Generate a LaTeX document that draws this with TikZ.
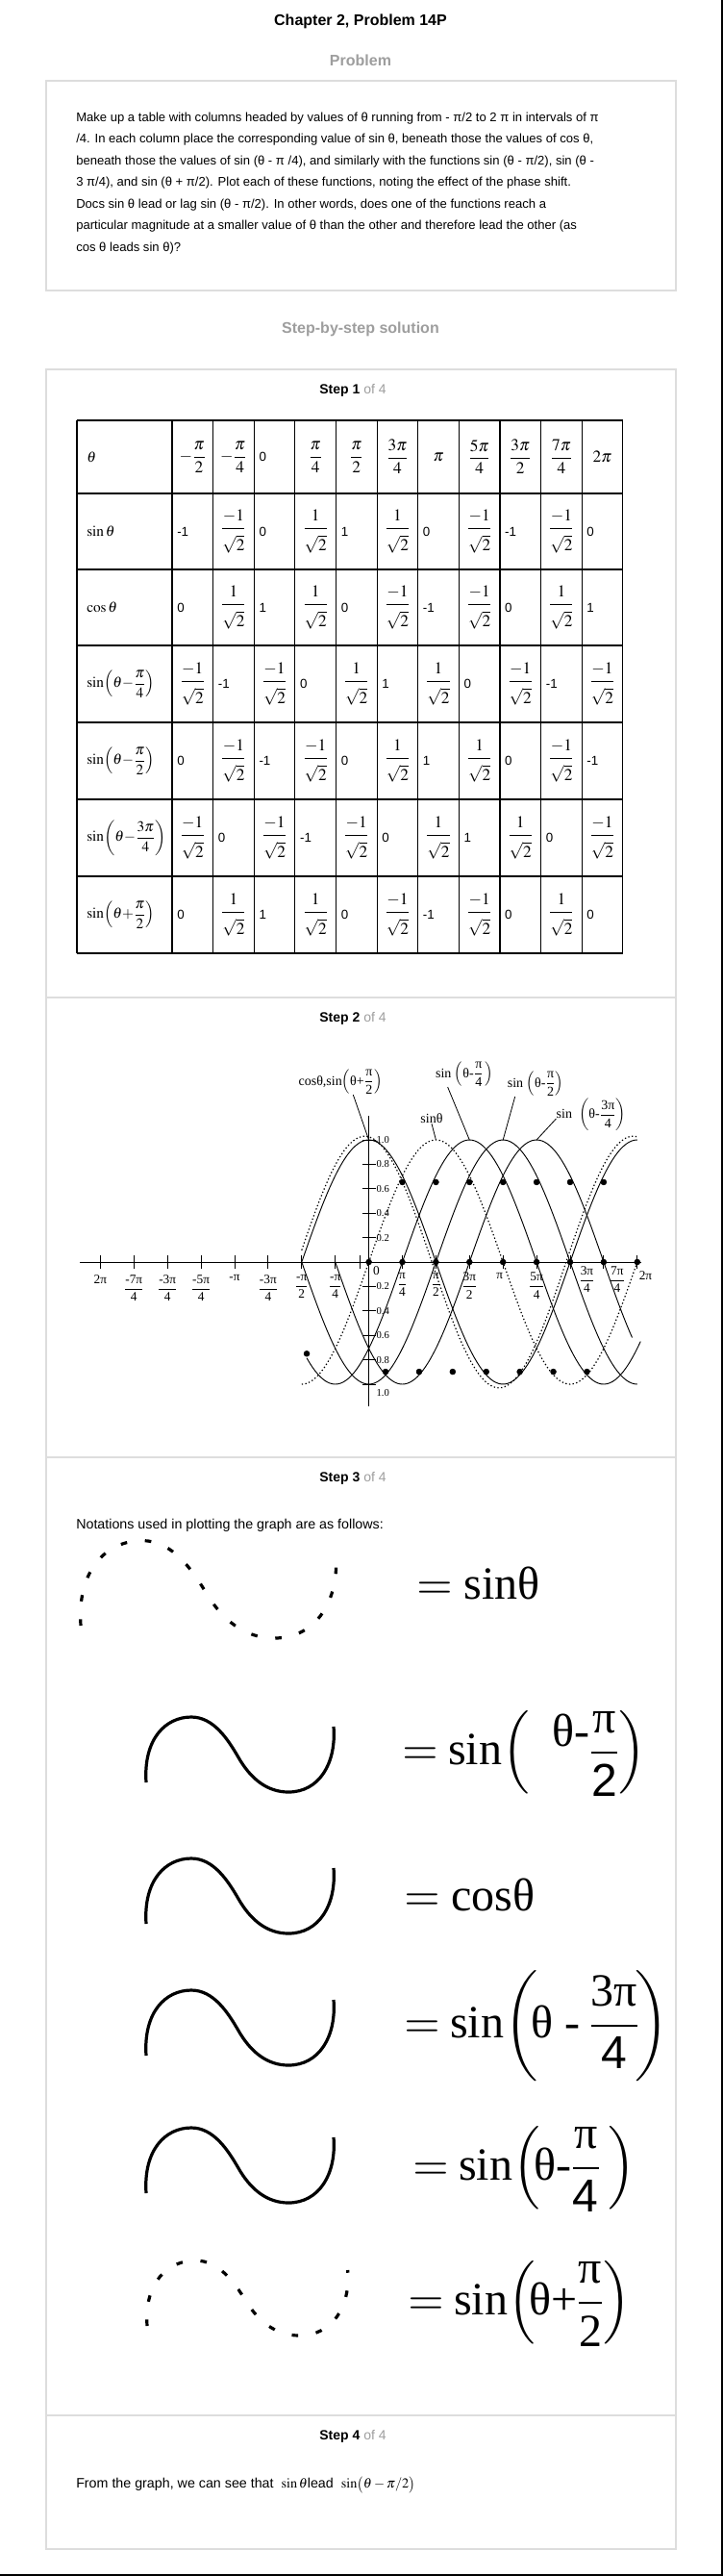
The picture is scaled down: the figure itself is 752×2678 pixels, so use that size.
\documentclass[tikz,border=0pt]{standalone}
\usepackage{amsmath}
\usepackage{mathptmx}
\usepackage[no-math]{fontspec}
\setmainfont{Liberation Sans}
\newfontfamily\tnr{Liberation Serif}
\definecolor{headgray}{HTML}{9E9E9E}
\definecolor{boxgray}{HTML}{DDDDDD}

\newcommand{\ps}{\dfrac{1}{\rule{0pt}{1.2em}\sqrt{2}}}
\newcommand{\ms}{\dfrac{-1}{\rule{0pt}{1.2em}\sqrt{2}}}
\newcommand{\ufrac}[2]{$\dfrac{\mbox{#1}}{\mbox{#2}}$}

\tikzset{
  heading/.style={font=\fontsize{12}{14}\selectfont\bfseries, inner sep=0pt},
  grayhead/.style={heading, text=headgray},
  steptitle/.style={font=\fontsize{10.5}{12}\selectfont, inner sep=0pt},
  bodytext/.style={font=\fontsize{10.7}{12}\selectfont, anchor=west, inner sep=0pt},
  probtext/.style={font=\fontsize{9.8}{12}\selectfont, anchor=west, inner sep=0pt},
  boxline/.style={draw=boxgray, line width=1.1pt},
  tabline/.style={line width=0.9pt},
  cellnum/.style={font=\fontsize{10}{12}\selectfont, anchor=west, inner sep=0pt},
  cellmath/.style={font=\fontsize{13}{15}\selectfont, inner sep=0pt},
  rowlabel/.style={font=\fontsize{11.5}{13}\selectfont, anchor=west, inner sep=0pt},
  axisline/.style={line width=0.7pt},
  xlab/.style={font=\tnr\fontsize{10}{12}\selectfont, inner sep=0.5pt},
  ylab/.style={font=\tnr\fontsize{8}{9}\selectfont, inner sep=0.5pt, anchor=west},
  solidcurve/.style={line width=0.7pt},
  dotcurve/.style={line width=0.9pt, dash pattern=on 1pt off 1.8pt},
  calllabel/.style={font=\tnr\fontsize{10.5}{12}\selectfont, inner sep=0pt},
  leader/.style={line width=0.6pt},
  solidwave/.style={line width=2.4pt},
  dashwave/.style={line width=2.4pt, dash pattern=on 5pt off 14pt},
  eqtext/.style={font=\tnr\fontsize{36}{40}\selectfont, anchor=west, inner sep=0pt},
  wave/.pic={
    \draw (0,0) .. controls (-3,-45) and (20,-68) .. (47,-68)
      .. controls (70,-68) and (85,-45) .. (96,-26)
      .. controls (108,-5) and (125,10) .. (148,10)
      .. controls (180,10) and (198,-20) .. (195,-58);
  }
}

\begin{document}
\begin{tikzpicture}[x=0.75pt, y=-0.75pt]
    \fill[white] (0,0) rectangle (752,2678);
    \useasboundingbox (0,0) rectangle (752,2678);
    % frame on the right and bottom edges
    \draw[line width=1.2pt] (751.2,0) -- (751.2,2677.2) -- (0,2677.2);

    % Headings
    \node[heading] (title) at (375,22) {Chapter 2, Problem 14P};
    \node[grayhead] (probhead) at (375,63) {Problem};
    \node[grayhead] (solhead) at (375,342) {Step-by-step solution};

    % Boxes
    \draw[boxline] (48,84) rectangle (703,302);
    \draw[boxline] (48,384) rectangle (703,2650);
    \foreach \y in {1037,1515,2511}
        \draw[boxline] (48,\y) -- (703,\y);

    % Problem text
    \foreach \ptext [count=\i] in {
        {Make up a table with columns headed by values of θ running from - π/2 to 2 π in intervals of π},
        {/4. In each column place the corresponding value of sin θ, beneath those the values of cos θ,},
        {beneath those the values of sin (θ - π /4), and similarly with the functions sin (θ - π/2), sin (θ -},
        {3 π/4), and sin (θ + π/2). Plot each of these functions, noting the effect of the phase shift.},
        {Docs sin θ lead or lag sin (θ - π/2). In other words, does one of the functions reach a},
        {particular magnitude at a smaller value of θ than the other and therefore lead the other (as},
        {cos θ leads sin θ)?}}
        \node[probtext] (prob\i) at (79,{123+22.5*(\i-1)}) {\ptext};

    % Step titles
    \foreach \y [count=\i] in {406,1059,1537,2533}
        \node[steptitle] (step\i) at (367,\y) {\textbf{Step \i} \textcolor{headgray}{of 4}};

    % Table grid
    \foreach \y in {437,513,592,671,751,831,911,991}
        \draw[tabline] (80,\y) -- (648,\y);
    \draw[tabline] (80,437) -- (80,991);
    \foreach \i in {0,...,11}
        \draw[tabline] ({179+42.62*\i},437) -- ({179+42.62*\i},991);

    % Row labels
    \foreach \r/\lab in {475/{\theta}, 552.5/{\sin\theta}, 631.5/{\cos\theta},
        711/{\sin\!\left(\theta{-}\dfrac{\pi}{4}\right)},
        791/{\sin\!\left(\theta{-}\dfrac{\pi}{2}\right)},
        871/{\sin\!\left(\theta{-}\dfrac{3\pi}{4}\right)},
        951/{\sin\!\left(\theta{+}\dfrac{\pi}{2}\right)}}
        \node[rowlabel] (lab\r) at (90,\r) {$\lab$};

    % Header row
    \node[cellnum] (h-3) at ({179+42.62*2+5},475) {0};
    \foreach \i/\v in {1/{-\dfrac{\pi}{2}}, 2/{-\dfrac{\pi}{4}}, 4/{\dfrac{\pi}{4}}, 5/{\dfrac{\pi}{2}},
        6/{\dfrac{3\pi}{4}}, 7/{\pi}, 8/{\dfrac{5\pi}{4}}, 9/{\dfrac{3\pi}{2}}, 10/{\dfrac{7\pi}{4}}, 11/{2\pi}}
        \node[cellmath] (h-\i) at ({179+42.62*(\i-0.5)},475) {$\v$};

    % sin row
    \foreach \i/\v in {1/-1,3/0,5/1,7/0,9/-1,11/0}
        \node[cellnum] (sa-\i) at ({179+42.62*(\i-1)+5},552.5) {\v};
    \foreach \i/\v in {2/\ms,4/\ps,6/\ps,8/\ms,10/\ms}
        \node[cellmath] (sa-\i) at ({179+42.62*(\i-0.5)},552.5) {$\v$};

    % cos row
    \foreach \i/\v in {1/0,3/1,5/0,7/-1,9/0,11/1}
        \node[cellnum] (sb-\i) at ({179+42.62*(\i-1)+5},631.5) {\v};
    \foreach \i/\v in {2/\ps,4/\ps,6/\ms,8/\ms,10/\ps}
        \node[cellmath] (sb-\i) at ({179+42.62*(\i-0.5)},631.5) {$\v$};

    % sin(theta - pi/4) row
    \foreach \i/\v in {2/-1,4/0,6/1,8/0,10/-1}
        \node[cellnum] (sc-\i) at ({179+42.62*(\i-1)+5},711) {\v};
    \foreach \i/\v in {1/\ms,3/\ms,5/\ps,7/\ps,9/\ms,11/\ms}
        \node[cellmath] (sc-\i) at ({179+42.62*(\i-0.5)},711) {$\v$};

    % sin(theta - pi/2) row
    \foreach \i/\v in {1/0,3/-1,5/0,7/1,9/0,11/-1}
        \node[cellnum] (sd-\i) at ({179+42.62*(\i-1)+5},791) {\v};
    \foreach \i/\v in {2/\ms,4/\ms,6/\ps,8/\ps,10/\ms}
        \node[cellmath] (sd-\i) at ({179+42.62*(\i-0.5)},791) {$\v$};

    % sin(theta - 3pi/4) row
    \foreach \i/\v in {2/0,4/-1,6/0,8/1,10/0}
        \node[cellnum] (se-\i) at ({179+42.62*(\i-1)+5},871) {\v};
    \foreach \i/\v in {1/\ms,3/\ms,5/\ms,7/\ps,9/\ps,11/\ms}
        \node[cellmath] (se-\i) at ({179+42.62*(\i-0.5)},871) {$\v$};

    % sin(theta + pi/2) row
    \foreach \i/\v in {1/0,3/1,5/0,7/-1,9/0,11/0}
        \node[cellnum] (sf-\i) at ({179+42.62*(\i-1)+5},951) {\v};
    \foreach \i/\v in {2/\ps,4/\ps,6/\ms,8/\ms,10/\ps}
        \node[cellmath] (sf-\i) at ({179+42.62*(\i-0.5)},951) {$\v$};

    % Graph of the functions
    \begin{scope}[xshift=287.7pt, yshift=-984pt, x=26.175pt, y=95.25pt]
        \draw[axisline] (-8.61,0) -- (8.12,0);
        \draw[axisline] (0,1.197) -- (0,-1.18);
        \foreach \k in {-8,...,-1,1,2,...,8}
            \draw[axisline] (\k,-0.055) -- (\k,0.055);
        \draw[axisline] (-0.27,-0.055) -- (-0.27,0.055);
        \foreach \t/\lab in {1/0.2,2/0.4,3/0.6,4/0.8,5/1.0} {
            \draw[axisline] (-0.2,{0.2*\t}) -- (0.2,{0.2*\t});
            \draw[axisline] (-0.2,{-0.2*\t}) -- (0.2,{-0.2*\t});
            \node[ylab] (yu\t) at (0.2,{0.2*\t}) {\lab};
            \node[ylab] (yd\t) at (0.2,{-0.2*\t-0.07*(\t==5)}) {\lab};
        }

        % Drawing the curves
        \draw[dotcurve, domain=-2:8, samples=120] plot (\x, {sin(45*\x)});
        \draw[dotcurve, domain=-2:8, samples=120] plot (\x, {1.03*cos(45*(\x+0.12))});
        \draw[solidcurve, domain=-2:8, samples=120] plot (\x, {cos(45*\x)});
        \draw[solidcurve, domain=-1.85:8.1, samples=120] plot (\x, {sin(45*\x-45)});
        \draw[solidcurve, domain=-2:8, samples=120] plot (\x, {sin(45*\x-90)});
        \draw[solidcurve, domain=-1:7.85, samples=120] plot (\x, {sin(45*\x-135)});

        % Adding the points
        \foreach \k in {0,...,8}
            \filldraw[black] (\k,0) circle (2.2pt);
        \foreach \k in {1,...,7}
            \filldraw[black] (\k,0.654) circle (2.2pt);
        \foreach \k in {0.5,1.5,...,6.5}
            \filldraw[black] (\k,-0.898) circle (2.2pt);
        \filldraw[black] (-1.85,-0.75) circle (2.2pt);

        % Adding labels
        \foreach \k/\lab in {-8/2π, -7/{\ufrac{-7π}{4}}, -6/{\ufrac{-3π}{4}}, -5/{\ufrac{-5π}{4}},
            -4/-π, -3/{\ufrac{-3π}{4}}, -2/{\ufrac{-π}{2}}, -1/{\ufrac{-π}{4}}}
            \node[xlab, anchor=north] (xl\k) at (\k,-0.1) {\lab};
        \node[xlab, anchor=north west] (xl0) at (0.1,-0.03) {0};
        \foreach \k/\lab in {1/{\ufrac{π}{4}}, 2/{\ufrac{π}{2}}, 3/{\ufrac{3π}{2}}, 5/{\ufrac{5π}{4}}}
            \node[xlab, anchor=north] (xr\k) at (\k,-0.08) {\lab};
        \node[xlab, anchor=north] (xr4) at (3.9,-0.08) {π};
        \node[xlab, anchor=north] (xr6) at (6.5,-0.03) {\ufrac{3π}{4}};
        \node[xlab, anchor=north] (xr7) at (7.4,-0.03) {\ufrac{7π}{4}};
        \node[xlab, anchor=north] (xr8) at (8.25,-0.07) {2π};

        \coordinate (pcos) at (0,1);
        \coordinate (psin) at (2,1);
        \coordinate (psin4) at (3,1);
        \coordinate (psin2) at (4,1);
        \coordinate (psin34) at (5,1);
    \end{scope}

    % Curve names
    \node[calllabel] (lcos) at (354,1125) {cosθ,sin$\left(\mbox{θ+}\dfrac{\mbox{π}}{\mbox{2}}\right)$};
    \node[calllabel] (lsin4) at (483,1117) {sin $\left(\mbox{θ-}\dfrac{\mbox{π}}{\mbox{4}}\,\right)$};
    \node[calllabel] (lsin2) at (557,1127) {sin $\left(\mbox{θ-}\dfrac{\mbox{π}}{\mbox{2}}\right)$};
    \node[calllabel] (lsin34) at (615,1159) {sin\ \ $\left(\mbox{θ-}\dfrac{\mbox{3π}}{\mbox{4}}\right)$};
    \node[calllabel] (lsin) at (449,1163) {sinθ};
    \draw[leader] ([xshift=10pt]lcos.south) -- (pcos);
    \draw[leader] ([xshift=-13pt]lsin4.south) -- (psin4);
    \draw[leader] ([xshift=-16pt]lsin2.south) -- (psin2);
    \draw[leader] ([yshift=-3pt]lsin34.west) -- (psin34);
    \draw[leader] (lsin.south) -- (psin);

    % Notations
    \node[bodytext] (notes) at (79,1586) {Notations used in plotting the graph are as follows:};
    \pic[dashwave, xscale=1.36, yscale=1.3] (wsin) at (84,1690) {wave};
    \pic[solidwave] (wsin2) at (152,1853) {wave};
    \pic[solidwave] (wcos) at (152,2000) {wave};
    \pic[solidwave] (wsin34) at (152,2137) {wave};
    \pic[solidwave] (wsin4) at (152,2280) {wave};
    \pic[dashwave, xscale=1.07] (wsinp) at (153,2418) {wave};

    \node[eqtext] (eqsin) at (433,1646) {$=$ sinθ};
    \node[eqtext] (eqsin2) at (418,1823) {$=\mbox{sin}\!\left(\hspace{18pt}\mbox{\raisebox{14pt}{θ-}}\dfrac{\mbox{π}}{\mbox{\normalfont 2}}\right)$};
    \node[eqtext] (eqcos) at (420,1970) {$=$ cosθ};
    \node[eqtext] (eqsin34) at (420,2106) {$=\mbox{sin}\!\left(\hspace{-5pt}\mbox{θ - }\hspace{-2pt}\dfrac{\mbox{3π}}{\mbox{\normalfont 4}}\hspace{-3pt}\right)$};
    \node[eqtext] (eqsin4) at (429,2255) {$=\mbox{sin}\!\left(\hspace{-5pt}\mbox{θ-}\dfrac{\mbox{π}}{\mbox{\normalfont 4}}\hspace{6pt}\right)$};
    \node[eqtext] (eqsinp) at (424,2395) {$=\mbox{sin}\!\left(\hspace{-5pt}\mbox{θ+}\dfrac{\mbox{π}}{\mbox{2}}\right)$};

    % Conclusion
    \node[bodytext] (concl) at (79,2583) {From the graph, we can see that\ \ $\sin\theta$lead\ \ $\sin\bigl(\theta-\pi/2\bigr)$};
\end{tikzpicture}
\end{document}
